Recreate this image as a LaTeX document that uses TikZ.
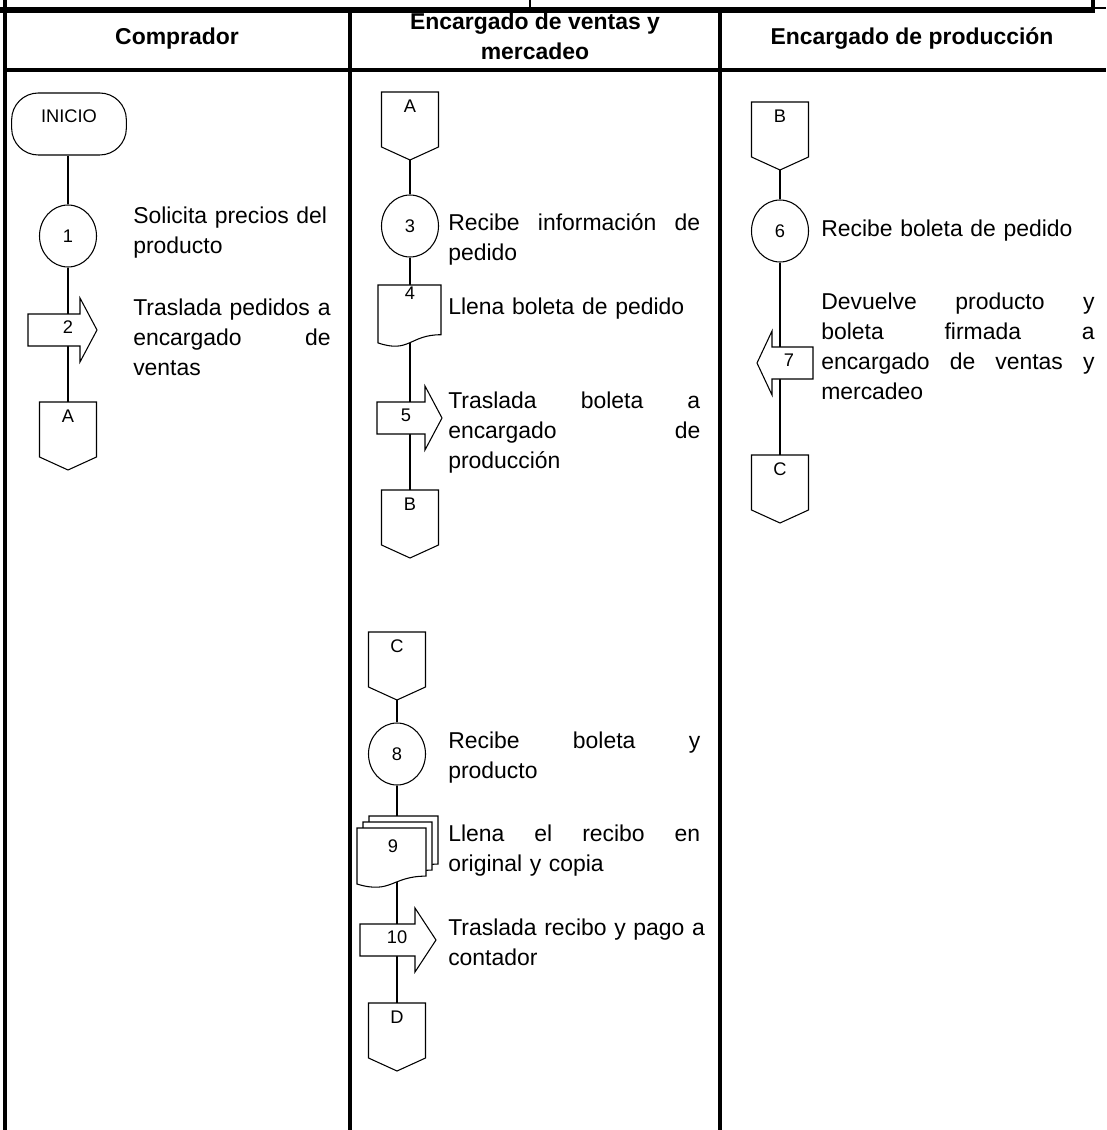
\documentclass[tikz,border=0pt]{standalone}
\usepackage{fontspec}
\setmainfont{Liberation Sans}
\usetikzlibrary{shapes.geometric}
\pgfdeclarelayer{bg}
\pgfsetlayers{bg,main}
\tikzset{
  shp/.style={draw, fill=white, line width=0.8pt},
  flow/.style={draw, line width=0.8pt},
  lab/.style={font=\fontsize{13.7}{16}\selectfont, inner sep=0pt},
  txt/.style={font=\fontsize{17.2}{22.5}\selectfont, inner sep=0pt, anchor=north west, align=left},
  hdr/.style={font=\bfseries\fontsize{17.2}{22.5}\selectfont, inner sep=0pt, anchor=base},
  gridln/.style={line width=2.6pt},
  proc/.style={shp, ellipse, minimum width=42.75pt, minimum height=46.5pt, inner sep=0pt, font=\fontsize{13.7}{16}\selectfont},
  term/.style={shp, rectangle, rounded corners=20pt, minimum width=86pt, minimum height=46.5pt},
}
% justified line of a given width
\newcommand{\jl}[2]{\leavevmode\hbox to #1{#2}}
% off-page connector: name, cx, top, label
\newcommand{\offpg}[4]{%
  \coordinate (#1t) at (#2,#3);
  \coordinate (#1b) at (#2,#3+50);
  \draw[shp] (#2-28.5,#3) -- (#2+28.5,#3) -- (#2+28.5,#3+55) -- (#2,#3+68) -- (#2-28.5,#3+55) -- cycle;
  \node[lab] (#1) at (#2,#3+14) {#4};}
% document: x0, x1, top, h
\newcommand{\docshape}[4]{%
  \draw[shp] (#1,#3) -- (#2,#3) -- (#2,#3+0.802*#4) .. controls ({(#1+#2)/2},#3+0.802*#4) and ({(#1+#2)/2},#3+1.1075*#4) .. (#1,#3+0.934*#4) -- cycle;}
% arrow: name, xstart, xbodyend, xtip, yc, labelx, label
\newcommand{\arrR}[7]{%
  \draw[shp] (#2,#5-16) -- (#3,#5-16) -- (#3,#5-32) -- (#4,#5) -- (#3,#5+32) -- (#3,#5+16) -- (#2,#5+16) -- cycle;
  \node[lab] (#1) at (#6,#5-3) {#7};}
\begin{document}
\begin{tikzpicture}[x=0.75pt,y=-0.75pt]
\useasboundingbox (0,0) rectangle (1106,1130);
% ---- grid ----
\draw[line width=4.5pt] (0,10) -- (1095,10);
\draw[line width=1.2pt] (1095,8) -- (1106,8);
\draw[line width=1.8pt] (530,0) -- (530,10);
\draw[line width=2.6pt] (1093,0) -- (1093,12);
\draw[gridln] (5,0) -- (5,1130);
\draw[line width=3pt] (5,70) -- (1106,70);
\draw[gridln] (350,10) -- (350,1130);
\draw[gridln] (720,10) -- (720,1130);
% ---- headers ----
\node[hdr] (h1) at (177,45) {Comprador};
\node[hdr] (h2a) at (535,30) {Encargado de ventas y};
\node[hdr] (h2b) at (535,60) {mercadeo};
\node[hdr] (h3) at (912,45) {Encargado de producción};
% ---- column 1 ----
\node[term] (ini) at (69,124) {};
\node[lab] (inil) at (69,116) {INICIO};
\node[proc] (c1) at (68,236) {1};
\arrR{a2}{28}{80}{97}{330}{68}{2}
\offpg{A1}{68}{402}{A}
\node[txt, text width=152pt] (t1) at (133,202) {\strut Solicita precios del\\producto};
\node[txt, text width=152pt] (t2) at (133,294) {\strut\jl{148pt}{Traslada\hfill pedidos\hfill a}\\\jl{148pt}{encargado\hfill de}\\ventas};
% ---- column 2 (upper) ----
\offpg{A2}{410}{92}{A}
\node[proc] (c3) at (410,226) {3};
\coordinate (d4t) at (410,285);
\coordinate (d4b) at (410,320);
\docshape{378}{441}{285}{62}
\node[lab] (l4) at (410,293) {4};
\arrR{a5}{377}{425}{442}{418}{406}{5}
\offpg{B2}{410}{490}{B}
\node[txt, text width=196pt] (t3) at (448,209) {\strut\jl{189pt}{Recibe\hfill información\hfill de}\\pedido};
\node[txt, text width=196pt] (t4) at (448,293) {\strut Llena boleta de pedido};
\node[txt, text width=196pt] (t5) at (448,387) {\strut\jl{189pt}{Traslada\hfill boleta\hfill a}\\\jl{189pt}{encargado\hfill de}\\producción};
% ---- column 3 ----
\offpg{B3}{780}{102}{B}
\node[proc] (c6) at (780,231) {6};
\arrR{a7}{813}{772}{757}{363}{789}{7}
\offpg{C3}{780}{455}{C}
\node[txt, text width=208pt] (t6) at (821,215) {\strut Recibe boleta de pedido};
\node[txt, text width=208pt] (t7) at (821,288) {\strut\jl{205pt}{Devuelve\hfill producto\hfill y}\\\jl{205pt}{boleta\hfill firmada\hfill a}\\\jl{205pt}{encargado\hfill de\hfill ventas\hfill y}\\mercadeo};
% ---- column 2 (lower) ----
\offpg{C2}{397}{632}{C}
\node[proc] (c8) at (397,754) {8};
\coordinate (d9t) at (397,816);
\coordinate (d9b) at (397,860);
\docshape{369}{438}{816}{60}
\docshape{363}{432}{822}{60}
\docshape{357}{426}{828}{60}
\node[lab] (l9) at (393,846) {9};
\arrR{a10}{360}{415}{436}{940}{397}{10}
\offpg{D2}{397}{1003}{D}
\node[txt, text width=196pt] (t8) at (448,727) {\strut\jl{189pt}{Recibe\hfill boleta\hfill y}\\producto};
\node[txt, text width=196pt] (t9) at (448,820) {\strut\jl{189pt}{Llena\hfill el\hfill recibo\hfill en}\\original y copia};
\node[txt, text width=196pt] (t10) at (448,914) {\strut\mbox{Traslada recibo y pago a}\\contador};
% ---- flow lines ----
\begin{pgfonlayer}{bg}
\draw[flow] (ini.south -| c1.north) -- (c1.north);
\draw[flow] (c1.south) -- (A1t);
\draw[flow] (A2b) -- (c3.north);
\draw[flow] (c3.south) -- (d4t);
\draw[flow] (d4b) -- (B2t);
\draw[flow] (B3b) -- (c6.north);
\draw[flow] (c6.south) -- (C3t);
\draw[flow] (C2b) -- (c8.north);
\draw[flow] (c8.south) -- (d9t);
\draw[flow] (d9b) -- (D2t);
\end{pgfonlayer}
\end{tikzpicture}
\end{document}
